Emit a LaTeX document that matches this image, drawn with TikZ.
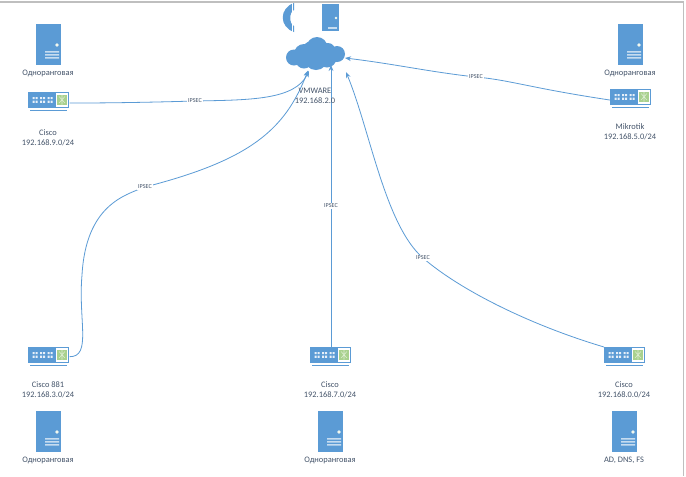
\documentclass[tikz,border=0pt]{standalone}
\usepackage{fontspec}
\setmainfont{Carlito}
\usetikzlibrary{arrows.meta}
\definecolor{iconblue}{HTML}{5B9BD5}
\definecolor{txt}{HTML}{44546A}
\definecolor{leaf}{HTML}{A9D18E}
\definecolor{frameg}{HTML}{BFBFBF}
\tikzset{
 x=0.75pt,y=-0.75pt,
 lbl/.style={font=\fontsize{6.3pt}{7.5pt}\selectfont,text=txt,align=center,inner sep=0pt},
 tag/.style={font=\fontsize{4.6pt}{5pt}\selectfont,text=txt,fill=white,inner sep=0.5pt},
 link/.style={draw=iconblue,line width=0.6pt,-{Stealth[length=4.5pt,width=3.6pt]}},
 box/.style={fill=iconblue,draw=none,inner sep=0pt,anchor=north west},
}
% #1 name, #2 x, #3 y (top-left)
\newcommand{\srv}[3]{%
 \node[box,minimum width=18.75pt,minimum height=30.75pt] (#1) at (#2,#3) {};
 \begin{scope}[shift={(#2,#3)}]
  \fill[white!85!leaf] (21,21) circle (1.8);
  \fill[white!65!iconblue] (9,27) rectangle (23,28.6) (9,30) rectangle (23,31.6) (9,33) rectangle (23,34.6);
 \end{scope}}
\newcommand{\rtr}[3]{%
 \node[box,minimum width=30.75pt,minimum height=11.75pt] (#1) at (#2,#3) {};
 \begin{scope}[shift={(#2,#3)}]
  \fill[white] (27.5,1) rectangle (40,14.5);
  \fill[leaf] (29,2.5) rectangle (39,13);
  \draw[white!60!leaf,line width=0.4pt] (31,4.5)--(37,11) (37,4.5)--(31,11) (34,3)--(34,12.5);
  \foreach \xx in {4.5,7.5,12,15,19.5,22.5}{\fill[white!85!iconblue] (\xx,5) rectangle +(2.2,2.2) (\xx,8.6) rectangle +(2.2,2.2);}
  \draw[iconblue,line width=0.55pt] (2,18.5)--(39,18.5);
 \end{scope}}
\begin{document}
\begin{tikzpicture}
\useasboundingbox (0,0) rectangle (686,476);
\fill[white] (0,0) rectangle (686,476);
\draw[frameg,line width=0.8pt] (0,2)--(683.5,2)--(683.5,476);
% servers
\srv{s1}{36}{24}
\srv{s2}{618}{24}
\srv{s3}{36}{411}
\srv{s4}{318}{411}
\srv{s5}{612}{411}
% top server, smaller
\node[box,minimum width=12.75pt,minimum height=20.25pt] (s0) at (322,4) {};
\fill[white!85!leaf] (336,18) circle (1.4);
\fill[white!65!iconblue] (328,27) rectangle (337,28.5);
% phone
\fill[iconblue] (294,3) .. controls (279,8) and (279,27) .. (294,32) -- (294,26) .. controls (289,24) and (289,12) .. (294,10) -- cycle;
\fill[white] (291.5,2.5) rectangle (292.5,34);
% cloud
\fill[iconblue] (294,57.5) circle (8) (304,54) circle (10) (317,47.5) circle (10.5) (328,50) circle (7)
  (337,54) circle (8) (316,58) circle (12) (327,58) circle (9.5) (304,60) circle (8.5) (314,52) circle (12);
\coordinate (cA) at (309,71);
\coordinate (cA2) at (308,70.5);
\coordinate (cB) at (331,65);
\coordinate (cC) at (346,72);
\coordinate (cD) at (345,58);
% routers
\rtr{r1}{28}{92}
\rtr{r2}{610}{89}
\rtr{r3}{28}{347}
\rtr{r4}{310}{347}
\rtr{r5}{604}{347}
% connectors
\path[link] ([yshift=-2.2pt]r1.east) .. controls (120,103) and (160,102) .. (195,101) node[tag]{IPSEC} .. controls (250,100) and (295,100) .. (cA);
\path[link] ([yshift=-1.2pt]r3.east) .. controls (92,357) and (78,320) .. (82,275) .. controls (86,205) and (125,195) .. (145,187) node[tag]{IPSEC} .. controls (250,160) and (285,130) .. (cA2);
\path[link] (r4.north-|cB) -- node[tag,pos=0.5]{IPSEC} (cB);
\path[link] (r5.north west) .. controls (530,325) and (460,290) .. (423,258) node[tag]{IPSEC} .. controls (385,225) and (370,130) .. (cC);
\path[link] ([yshift=-2.2pt]r2.west) .. controls (530,88) and (510,80) .. (476,77) node[tag]{IPSEC} .. controls (430,72) and (395,64) .. (cD);
% labels
\node[lbl] (t1) at (48,73) {Одноранговая};
\node[lbl] (t2) at (630,73) {Одноранговая};
\node[lbl] (t3) at (48,460) {Одноранговая};
\node[lbl] (t4) at (330,460) {Одноранговая};
\node[lbl] (t5) at (624,460) {AD, DNS, FS};
\node[lbl] (t6) at (48,138) {Cisco\\192.168.9.0/24};
\node[lbl] (t7) at (630,132) {Mikrotik\\192.168.5.0/24};
\node[lbl] (t8) at (48,390) {Cisco 881\\192.168.3.0/24};
\node[lbl] (t9) at (330,390) {Cisco\\192.168.7.0/24};
\node[lbl] (t10) at (624,390) {Cisco\\192.168.0.0/24};
\node[lbl] (t11) at (315,96) {VMWARE\\192.168.2.0};
\end{tikzpicture}
\end{document}
